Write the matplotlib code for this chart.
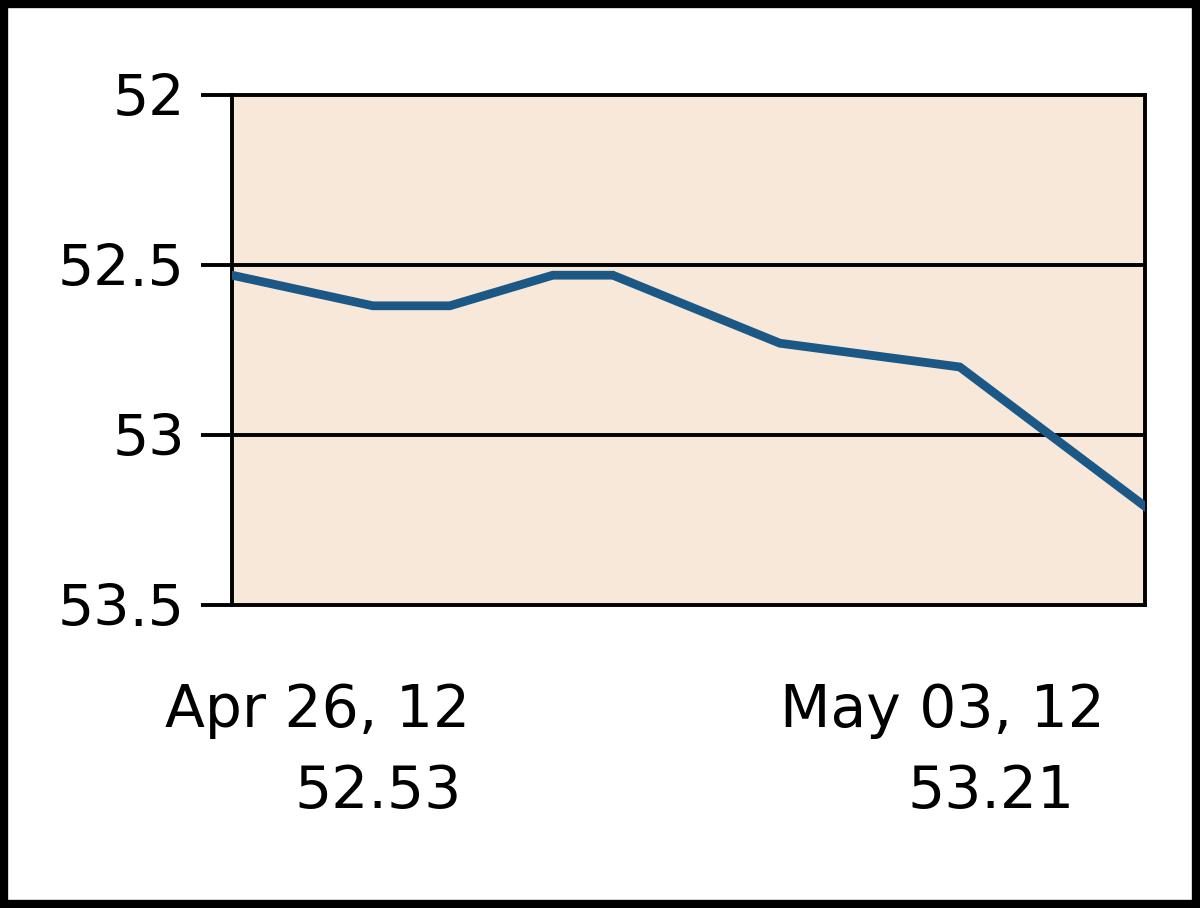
import matplotlib
matplotlib.use("Agg")
import matplotlib.pyplot as plt
from matplotlib.patches import Rectangle
from matplotlib import font_manager

# Data (days since Apr 26, 12)
day_offsets = [0.0, 1.08, 1.67, 2.46, 2.92, 4.20, 5.58, 7.0]
prices = [52.53, 52.62, 52.62, 52.53, 52.53, 52.73, 52.80, 53.21]
y_ticks = [52.0, 52.5, 53.0, 53.5]
y_tick_labels = ["52", "52.5", "53", "53.5"]
start_label = "Apr 26, 12"
end_label = "May 03, 12"
start_value = "52.53"
end_value = "53.21"

plt.rcParams['font.family'] = ['DejaVu Sans']

names = {f.name for f in font_manager.fontManager.ttflist}
if "Liberation Sans Narrow" in names:
    label_font = dict(family=["Liberation Sans Narrow", "DejaVu Sans"], fontsize=56)
else:
    label_font = dict(family=["DejaVu Sans"], fontsize=42)

fig = plt.figure(figsize=(12, 9.08), dpi=100)
fig.patch.set_facecolor("white")
ax = fig.add_axes([232/1200, 1-605/908, (1145-232)/1200, (605-95)/908])
ax.set_facecolor("#F8E8DA")

ax.plot(day_offsets, prices, color="#1B5886", lw=6.3, solid_joinstyle="miter", zorder=3)

ax.set_xlim(day_offsets[0], day_offsets[-1])
ax.set_ylim(53.5, 52.0)
ax.set_yticks(y_ticks)
ax.set_yticklabels(y_tick_labels, fontsize=41)
ax.set_xticks([])
ax.tick_params(axis="y", length=22, width=2.8, color="black", pad=12)

for yv in y_ticks[1:-1]:
    ax.axhline(yv, color="black", lw=2.8, zorder=2)

for s in ax.spines.values():
    s.set_linewidth(2.8)
    s.set_color("black")

# bottom labels
fig.text(470/1200, 1-727/908, start_label, ha="right", va="baseline", **label_font)
fig.text(462/1200, 1-808/908, start_value, ha="right", va="baseline", **label_font)
fig.text(1105/1200, 1-727/908, end_label, ha="right", va="baseline", **label_font)
fig.text(1075/1200, 1-808/908, end_value, ha="right", va="baseline", **label_font)

# outer frame
fig.patches.append(Rectangle((0.003, 0.004), 0.994, 0.992, transform=fig.transFigure,
                             fill=False, edgecolor="black", lw=6))

fig.savefig("out.png", dpi=100)
